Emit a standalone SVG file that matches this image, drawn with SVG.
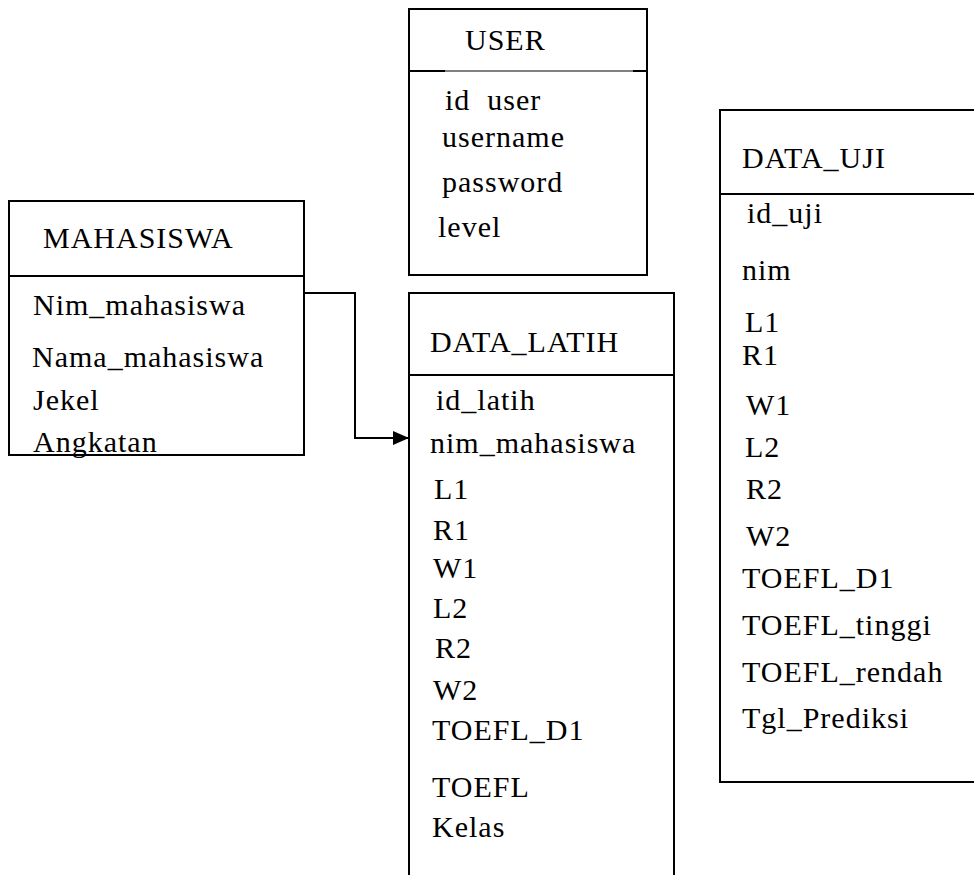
<svg xmlns="http://www.w3.org/2000/svg" width="974" height="875" viewBox="0 0 974 875">
<style>
.box{fill:#fff;stroke:#000;stroke-width:2}
.ln{stroke:#000;stroke-width:2;fill:none}
text{font-family:"Liberation Serif","Times New Roman",serif;font-size:30px;letter-spacing:1px;fill:#000}
</style>
<defs>
<marker id="arr" markerWidth="16" markerHeight="14" refX="16" refY="7" orient="auto" markerUnits="userSpaceOnUse">
<path d="M0,0 L16,7 L0,14 Z" fill="#000"/>
</marker>
</defs>
<rect width="974" height="875" fill="#fff"/>
<g id="user">
<rect class="box" x="409" y="9" width="238" height="266"/>
<line x1="409" y1="71" x2="647" y2="71" stroke="#000" stroke-width="1"/>
<line class="ln" x1="409" y1="71" x2="445" y2="71"/>
<line class="ln" x1="633" y1="71" x2="647" y2="71"/>
<text x="465" y="50">USER</text>
<text x="445" y="110" xml:space="preserve">id  user</text>
<text x="442" y="147">username</text>
<text x="442" y="192">password</text>
<text x="438" y="237">level</text>
</g>
<g id="mahasiswa">
<rect class="box" x="9" y="201" width="295" height="254"/>
<line class="ln" x1="9" y1="276" x2="304" y2="276"/>
<text x="43" y="248">MAHASISWA</text>
<text x="33" y="315">Nim_mahasiswa</text>
<text x="32" y="367">Nama_mahasiswa</text>
<text x="33" y="410">Jekel</text>
<text x="33" y="452">Angkatan</text>
</g>
<g id="data_latih">
<rect class="box" x="409" y="293" width="265" height="600"/>
<line class="ln" x1="409" y1="375" x2="674" y2="375"/>
<text x="430" y="352">DATA_LATIH</text>
<text x="436" y="410">id_latih</text>
<text x="430" y="453">nim_mahasiswa</text>
<text x="434" y="499">L1</text>
<text x="433" y="540">R1</text>
<text x="433" y="578">W1</text>
<text x="433" y="618">L2</text>
<text x="435" y="658">R2</text>
<text x="433" y="700">W2</text>
<text x="432" y="740">TOEFL_D1</text>
<text x="432" y="797">TOEFL</text>
<text x="432" y="837">Kelas</text>
</g>
<g id="data_uji">
<rect class="box" x="720" y="110" width="270" height="672"/>
<line class="ln" x1="720" y1="194" x2="974" y2="194"/>
<text x="742" y="168">DATA_UJI</text>
<text x="747" y="223">id_uji</text>
<text x="742" y="280">nim</text>
<text x="745" y="332">L1</text>
<text x="742" y="365">R1</text>
<text x="746" y="415">W1</text>
<text x="745" y="457">L2</text>
<text x="746" y="499">R2</text>
<text x="746" y="546">W2</text>
<text x="742" y="588">TOEFL_D1</text>
<text x="742" y="635">TOEFL_tinggi</text>
<text x="742" y="682">TOEFL_rendah</text>
<text x="742" y="728">Tgl_Prediksi</text>
</g>
<g id="connectors">
<path class="ln" d="M304,293 H355 V438 H409" marker-end="url(#arr)"/>
</g>
</svg>
